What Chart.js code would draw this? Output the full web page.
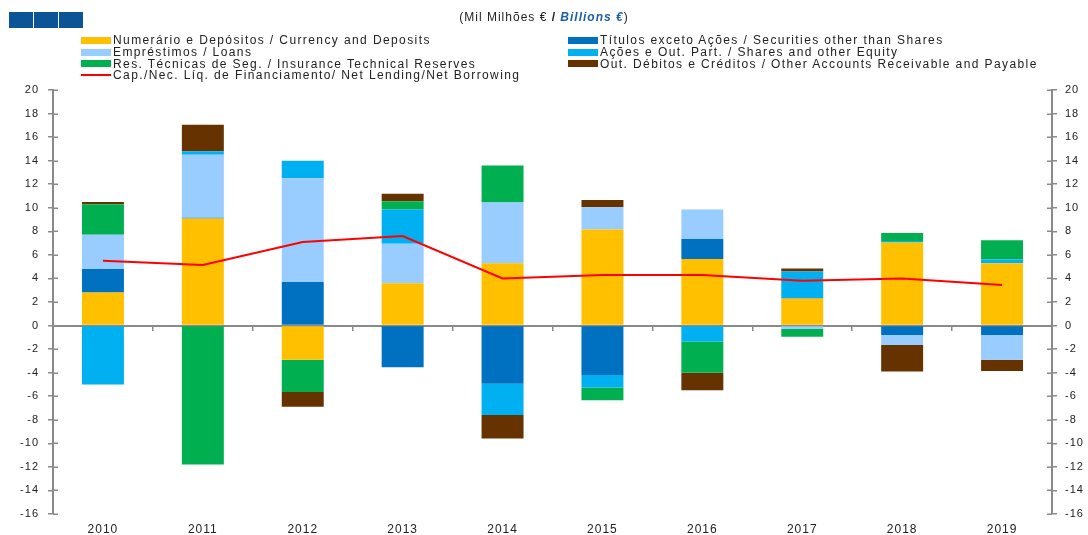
<!DOCTYPE html>
<html>
<head>
<meta charset="utf-8">
<script src="https://cdn.jsdelivr.net/npm/chart.js@4.4.1/dist/chart.umd.min.js"></script>
<style>
  html, body { margin: 0; padding: 0; background: #fff; }
  #wrap { position: relative; width: 1088px; height: 535px; overflow: hidden; font-family: "Liberation Sans", Arial, sans-serif; }
  #chart { position: absolute; left: 0; top: 0; }
  .logo { position: absolute; top: 12px; width: 24px; height: 16px; background: #0b5596; }
  #title { position: absolute; top: 9px; left: 0; width: 1088px; text-align: center; font-size: 12px; letter-spacing: 1px; color: #222; line-height: 16px; }
  #title b.en { color: #1b60a8; font-style: italic; }
  .leg { position: absolute; font-size: 12px; letter-spacing: 1.4px; color: #222; line-height: 12px; white-space: nowrap; }
  .sw { position: absolute; width: 30px; height: 7px; }
  .swl { position: absolute; width: 30px; height: 2px; }
</style>
</head>
<body>
<div id="wrap">
  <canvas id="chart" width="1088" height="535"></canvas>
  <div class="logo" style="left:9px"></div>
  <div class="logo" style="left:34px"></div>
  <div class="logo" style="left:59px"></div>
  <div id="title">(Mil Milhões € <b>/</b> <b class="en">Billions €</b>)</div>
  <div id="legend"></div>
</div>
<script>
const categories = ['2010','2011','2012','2013','2014','2015','2016','2017','2018','2019'];
const currency   = [2.8, 9.1, -2.9, 3.6, 5.3, 8.15, 5.65, 2.3, 7.05, 5.3];
const securities = [2.0, 0.05, 3.7, -3.55, -4.95, -4.2, 1.7, 0.05, -0.8, -0.8];
const loans      = [2.9, 5.35, 8.8, 3.35, 5.15, 1.9, 2.5, -0.3, -0.85, -2.1];
const shares     = [-5.0, 0.3, 1.5, 2.9, -2.65, -1.05, -1.35, 2.25, 0.12, 0.3];
const insurance  = [2.6, -11.8, -2.75, 0.7, 3.15, -1.1, -2.65, -0.65, 0.68, 1.65];
const other      = [0.2, 2.25, -1.25, 0.65, -2.0, 0.6, -1.5, 0.25, -2.25, -0.95];
const netLending = [5.5, 5.15, 7.1, 7.6, 4.0, 4.3, 4.3, 3.8, 4.0, 3.45];
const yMin = -16, yMax = 20, yStep = 2;

const seriesNames = [
  'Numerário e Depósitos / Currency and Deposits',
  'Títulos exceto Ações / Securities other than Shares',
  'Empréstimos / Loans',
  'Ações e Out. Part. / Shares and other Equity',
  'Res. Técnicas de Seg. / Insurance Technical Reserves',
  'Out. Débitos e Créditos / Other Accounts Receivable and Payable'
];
const lineName = 'Cap./Nec. Líq. de Financiamento/ Net Lending/Net Borrowing';
const colors = ['#FFC000', '#0070C0', '#99CCFF', '#00B0F0', '#00B050', '#663300'];
const seriesData = [currency, securities, loans, shares, insurance, other];

const datasets = seriesData.map((d, i) => ({
  type: 'bar',
  label: seriesNames[i],
  data: d,
  backgroundColor: colors[i],
  borderWidth: 0,
  xAxisID: 'x',
  yAxisID: 'y',
  order: 1
}));
datasets.push({
  type: 'line',
  label: lineName,
  data: netLending,
  borderColor: '#FF0000',
  borderWidth: 2,
  pointRadius: 0,
  tension: 0,
  fill: false,
  xAxisID: 'x',
  yAxisID: 'y2',
  order: 0
});

const AXIS = '#8a8a8a';

const spacingPlugin = {
  id: 'spacing',
  beforeUpdate(chart) { chart.ctx.letterSpacing = '1px'; },
  beforeDraw(chart) { chart.ctx.letterSpacing = '1px'; }
};

const innerTicks = {
  id: 'innerTicks',
  afterDraw(chart) {
    const ctx = chart.ctx;
    ctx.save();
    ctx.strokeStyle = AXIS;
    ctx.lineWidth = 1.5;
    ['y', 'y2'].forEach(id => {
      const s = chart.scales[id];
      const left = id === 'y';
      const ax = left ? s.right : s.left;
      s.ticks.forEach(t => {
        const py = Math.round(s.getPixelForValue(t.value)) + 0.25;
        ctx.beginPath();
        ctx.moveTo(ax, py);
        ctx.lineTo(left ? ax + 5 : ax - 5, py);
        ctx.stroke();
      });
    });
    ctx.restore();
  }
};

const yAxisCommon = {
  min: yMin, max: yMax,
  ticks: { stepSize: yStep, color: '#222', font: { family: 'Liberation Sans', size: 11 } },
  grid: { drawOnChartArea: false, drawTicks: true, tickLength: 5, color: AXIS, lineWidth: 1.5 },
  border: { display: true, color: AXIS, width: 2 }
};

new Chart(document.getElementById('chart'), {
  data: { labels: categories, datasets },
  plugins: [spacingPlugin, innerTicks],
  options: {
    responsive: false,
    animation: false,
    maintainAspectRatio: false,
    layout: { padding: { top: 90, left: 0, right: 0, bottom: 0 } },
    datasets: { bar: { barPercentage: 0.42, categoryPercentage: 1.0 } },
    plugins: { legend: { display: false }, tooltip: { enabled: false }, title: { display: false } },
    scales: {
      x: {
        type: 'category',
        position: 'bottom',
        stacked: true,
        offset: true,
        grid: { display: false, drawTicks: false },
        border: { display: false },
        ticks: { color: '#222', padding: 8, font: { family: 'Liberation Sans', size: 12 }, maxRotation: 0 },
        afterFit(s) { s.height = 21; }
      },
      x2: {
        type: 'category',
        labels: categories,
        position: { y: 0 },
        offset: true,
        grid: { offset: true, drawOnChartArea: false, drawTicks: true, tickLength: 4, color: AXIS, lineWidth: 1.5 },
        border: { display: true, color: AXIS, width: 2 },
        ticks: { display: false }
      },
      y: Object.assign({}, yAxisCommon, {
        position: 'left', stacked: true,
        ticks: Object.assign({}, yAxisCommon.ticks, { padding: 9 }),
        afterFit(s) { s.width = 53; }
      }),
      y2: Object.assign({}, yAxisCommon, {
        position: 'right', stacked: false,
        ticks: Object.assign({}, yAxisCommon.ticks, { padding: 8 }),
        afterFit(s) { s.width = 36; }
      })
    }
  }
});

// HTML legend built from the series arrays
const legend = document.getElementById('legend');
const items = seriesNames.map((n, i) => ({ name: n, color: colors[i], line: false }));
items.push({ name: lineName, color: '#FF0000', line: true });
const colX = [81, 568];
const rowY = [34, 46, 57.5, 69];
items.forEach((it, i) => {
  const col = i % 2, row = Math.floor(i / 2);
  const x = colX[col], y = rowY[row];
  const sw = document.createElement('div');
  sw.className = it.line ? 'swl' : 'sw';
  sw.style.left = x + 'px';
  sw.style.top = (it.line ? y + 5 : y + 2.5) + 'px';
  sw.style.background = it.color;
  legend.appendChild(sw);
  const tx = document.createElement('div');
  tx.className = 'leg';
  tx.style.left = (x + 32) + 'px';
  tx.style.top = y + 'px';
  tx.textContent = it.name;
  legend.appendChild(tx);
});
</script>
</body>
</html>
